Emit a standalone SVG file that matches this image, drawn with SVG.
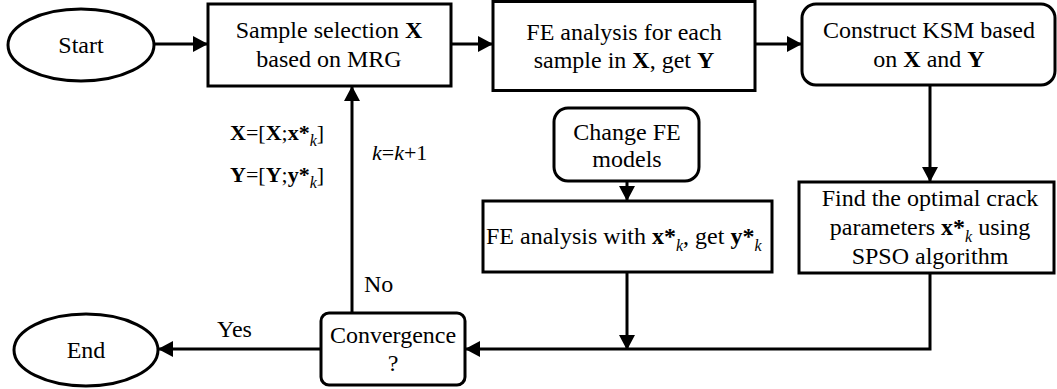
<svg xmlns="http://www.w3.org/2000/svg" width="1057" height="389" viewBox="0 0 1057 389">
<style>
text{font-family:"Liberation Serif","Times New Roman",serif;font-size:24px;fill:#000}
.n{fill:#fff;stroke:#000;stroke-width:3}
.e{fill:none;stroke:#000;stroke-width:3;marker-end:url(#ah)}
.c{text-anchor:middle}
.b{font-weight:bold}
.i{font-style:italic}
.s{font-size:16px;font-style:italic}
.m{font-size:22px}
</style>
<defs>
<marker id="ah" markerUnits="userSpaceOnUse" markerWidth="15" markerHeight="16" refX="15" refY="8" orient="auto" viewBox="0 0 15 16">
<path d="M0,0 L15,8 L0,16 z" fill="#000"/>
</marker>
</defs>
<g id="connectors">
<path class="e" d="M155,44 H208"/>
<path class="e" d="M451,44 H493"/>
<path class="e" d="M755,44 H802"/>
<path class="e" d="M930,85 V182"/>
<path class="e" d="M627,181 V201"/>
<path class="e" d="M627,272 V350"/>
<path class="e" d="M930,273 V349 H465"/>
<path class="e" d="M321,349 H158"/>
<path class="e" d="M352,313 V86"/>
<text x="364" y="292">No</text>
<text x="217" y="337">Yes</text>
<text class="m" x="372" y="160"><tspan class="i">k</tspan>=<tspan class="i">k</tspan>+1</text>
<text class="m" x="230" y="140"><tspan class="b">X</tspan>=[<tspan class="b">X</tspan>;<tspan class="b">x*</tspan><tspan class="s" dy="6">k</tspan><tspan dy="-6">]</tspan></text>
<text class="m" x="230" y="182"><tspan class="b">Y</tspan>=[<tspan class="b">Y</tspan>;<tspan class="b">y*</tspan><tspan class="s" dy="6">k</tspan><tspan dy="-6">]</tspan></text>
</g>
<g id="start">
<ellipse class="n" cx="81" cy="45" rx="73" ry="36"/>
<text class="c" x="81" y="53">Start</text>
</g>
<g id="sample">
<rect class="n" x="208" y="4" width="243" height="82"/>
<text class="c" x="329" y="38">Sample selection <tspan class="b">X</tspan></text>
<text class="c" x="329" y="67">based on MRG</text>
</g>
<g id="fe-each">
<rect class="n" x="493" y="1.5" width="262" height="89"/>
<text class="c" x="624" y="40">FE analysis for each</text>
<text class="c" x="624" y="68">sample in <tspan class="b">X</tspan>, get <tspan class="b">Y</tspan></text>
</g>
<g id="ksm">
<rect class="n" x="802" y="4" width="253" height="81" rx="14"/>
<text class="c" x="929" y="38">Construct KSM based</text>
<text class="c" x="929" y="67">on <tspan class="b">X</tspan> and <tspan class="b">Y</tspan></text>
</g>
<g id="change-fe">
<rect class="n" x="554" y="108" width="145" height="73" rx="14"/>
<text class="c" x="627" y="140">Change FE</text>
<text class="c" x="627" y="167">models</text>
</g>
<g id="fe-x">
<rect class="n" x="483" y="201" width="289" height="71"/>
<text x="486" y="244">FE analysis with <tspan class="b">x*</tspan><tspan class="s" dy="7">k</tspan><tspan dy="-7">, get </tspan><tspan class="b">y*</tspan><tspan class="s" dy="7">k</tspan></text>
</g>
<g id="find">
<rect class="n" x="799" y="182" width="255" height="91"/>
<text class="c" x="930" y="206">Find the optimal crack</text>
<text class="c" x="930" y="235">parameters <tspan class="b">x*</tspan><tspan class="s" dy="7">k</tspan><tspan dy="-7"> using</tspan></text>
<text class="c" x="930" y="264">SPSO algorithm</text>
</g>
<g id="convergence">
<rect class="n" x="321" y="313" width="144" height="72" rx="8"/>
<text class="c" x="393" y="343">Convergence</text>
<text class="c" x="393" y="371">?</text>
</g>
<g id="end">
<ellipse class="n" cx="86" cy="350" rx="72" ry="36"/>
<text class="c" x="86" y="358">End</text>
</g>
</svg>
